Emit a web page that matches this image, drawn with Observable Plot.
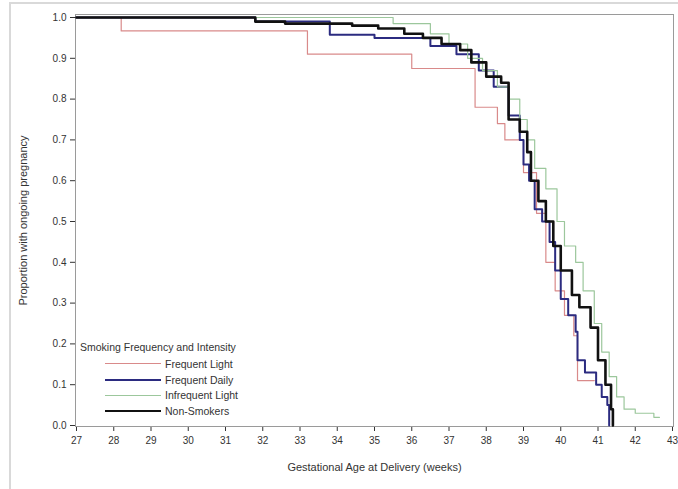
<!DOCTYPE html>
<html>
<head>
<meta charset="utf-8">
<script src="https://cdn.jsdelivr.net/npm/d3@7"></script>
<script src="https://cdn.jsdelivr.net/npm/@observablehq/plot@0.6"></script>
<style>
  html, body { margin: 0; padding: 0; background: #fff; }
  body { width: 678px; height: 489px; position: relative; overflow: hidden; font-family: "Liberation Sans", Arial, sans-serif; }
  #border { position: absolute; left: 9px; top: 2px; width: 680px; height: 500px; border: 2px solid #d9d9d9; box-sizing: border-box; z-index: 2; pointer-events: none; }
  #chart { position: absolute; left: 0; top: 0; }
  #legend { position: absolute; left: 80px; top: 341px; font-size: 10.5px; color: #333; }
  #legend .title { margin-bottom: 3px; }
  #legend .row { display: flex; align-items: center; height: 15.7px; }
  #legend .sw { width: 56px; margin-left: 25px; margin-right: 4px; }
</style>
</head>
<body>
<div id="chart"></div>
<div id="border"></div>
<div id="legend"></div>
<script>
// ---- data (weeks, proportion still pregnant) ----
const seriesNames = ["Frequent Light", "Frequent Daily", "Infrequent Light", "Non-Smokers"];
const seriesColors = ["#d98a8a", "#2b2b80", "#9cc79c", "#111111"];
const seriesWidths = [1.2, 2, 1.2, 2.6];

const frequentLight = [
  [27, 1.0], [28.2, 0.967], [33.2, 0.91], [36.0, 0.875], [37.7, 0.78], [38.3, 0.74],
  [38.5, 0.70], [39.0, 0.62], [39.35, 0.52], [39.6, 0.40], [39.85, 0.33], [40.1, 0.27],
  [40.35, 0.22], [40.45, 0.11], [40.9, 0.11]
];
const frequentDaily = [
  [27, 1.0], [31.8, 0.99], [33.8, 0.958], [35.0, 0.95], [36.5, 0.93], [37.2, 0.91],
  [37.8, 0.87], [38.2, 0.83], [38.6, 0.76], [38.9, 0.70], [39.0, 0.64], [39.15, 0.60],
  [39.3, 0.53], [39.5, 0.50], [39.7, 0.45], [39.85, 0.38], [40.0, 0.31], [40.2, 0.27],
  [40.4, 0.23], [40.45, 0.16], [40.65, 0.13], [40.95, 0.10], [41.1, 0.07], [41.25, 0.05],
  [41.3, 0.0]
];
const infrequentLight = [
  [27, 1.0], [35.5, 0.985], [36.5, 0.96], [37.0, 0.935], [37.5, 0.90], [37.9, 0.87],
  [38.3, 0.83], [38.6, 0.80], [38.9, 0.75], [39.1, 0.70], [39.3, 0.63], [39.6, 0.58],
  [39.9, 0.50], [40.1, 0.44], [40.4, 0.40], [40.6, 0.33], [40.9, 0.25], [41.1, 0.18],
  [41.3, 0.12], [41.5, 0.07], [41.7, 0.04], [42.0, 0.03], [42.5, 0.02], [42.65, 0.02]
];
const nonSmokers = [
  [27, 1.0], [31.8, 0.99], [32.6, 0.985], [34.4, 0.98], [35.1, 0.973], [35.8, 0.96],
  [36.3, 0.95], [36.8, 0.935], [37.3, 0.92], [37.6, 0.89], [38.0, 0.855], [38.4, 0.84],
  [38.6, 0.75], [38.9, 0.72], [39.1, 0.67], [39.2, 0.60], [39.4, 0.55], [39.6, 0.50],
  [39.8, 0.44], [40.0, 0.38], [40.3, 0.32], [40.5, 0.29], [40.8, 0.24], [41.0, 0.16],
  [41.2, 0.10], [41.35, 0.04], [41.4, 0.0]
];

const xTicks = [27, 28, 29, 30, 31, 32, 33, 34, 35, 36, 37, 38, 39, 40, 41, 42, 43];
const yTicks = [0, 0.1, 0.2, 0.3, 0.4, 0.5, 0.6, 0.7, 0.8, 0.9, 1.0];

const allSeries = [frequentLight, frequentDaily, infrequentLight, nonSmokers];
const rows = allSeries.flatMap((s, i) => s.map(([w, p]) => ({series: seriesNames[i], week: w, p})));

const marks = seriesNames.map((name, i) =>
  Plot.line(rows.filter(d => d.series === name), {
    x: "week", y: "p", stroke: "series", strokeWidth: seriesWidths[i], curve: "step-after"
  })
);

const chart = Plot.plot({
  width: 678, height: 489,
  marginLeft: 75, marginRight: 5, marginTop: 14, marginBottom: 63,
  insetTop: 3, insetLeft: 1, insetRight: 1, insetBottom: 1,
  style: {fontFamily: "Liberation Sans, Arial, sans-serif", fontSize: "10px", color: "#333", background: "white"},
  x: {domain: [27, 43], ticks: xTicks, tickFormat: d3.format("d"), tickSize: 5, tickPadding: 5,
      label: "Gestational Age at Delivery (weeks)", labelAnchor: "center", labelArrow: "none", labelOffset: 44},
  y: {domain: [0, 1], ticks: yTicks, tickFormat: d3.format(".1f"), tickSize: 5,
      label: "Proportion with ongoing pregnancy", labelAnchor: "center", labelArrow: "none", labelOffset: 56},
  color: {domain: seriesNames, range: seriesColors},
  marks: [
    Plot.frame({stroke: "#9a9a9a"}),
    ...marks
  ]
});
chart.querySelectorAll("g[aria-label$='axis label'] text").forEach(t => t.setAttribute("font-size", "11px"));
document.getElementById("chart").appendChild(chart);

// legend (HTML)
const lg = document.getElementById("legend");
lg.innerHTML = `<div class="title">Smoking Frequency and Intensity</div>` +
  seriesNames.map((n, i) => `<div class="row"><div class="sw" style="border-top:${seriesWidths[i]}px solid ${seriesColors[i]}"></div><span>${n}</span></div>`).join("");
</script>
</body>
</html>
